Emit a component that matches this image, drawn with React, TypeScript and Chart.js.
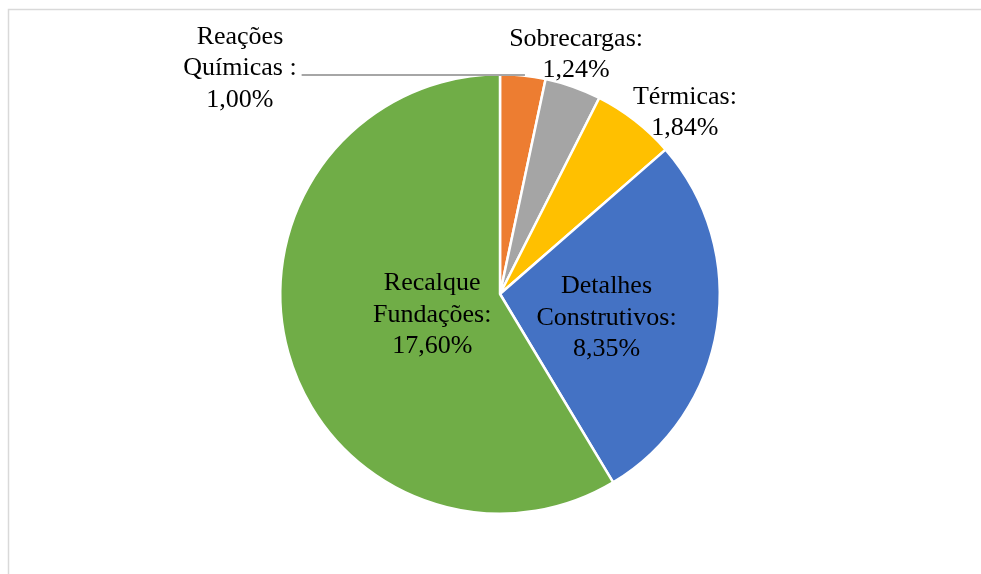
import React, { useEffect, useRef } from "react";
import { Chart, registerables } from "chart.js";

Chart.register(...registerables);

const categories = ["Reações Químicas", "Sobrecargas", "Térmicas", "Detalhes Construtivos", "Recalque Fundações"];
const categoryLines = [
  ["Reações", "Químicas :"],
  ["Sobrecargas:"],
  ["Térmicas:"],
  ["Detalhes", "Construtivos:"],
  ["Recalque", "Fundações:"],
];
const values = [1.0, 1.24, 1.84, 8.35, 17.6];
const colors = ["#ED7D31", "#A5A5A5", "#FFC000", "#4472C4", "#70AD47"];

// label placement: radial factor of the slice's mid-angle, plus pixel nudge
const labelPlacement = [
  { r: 1, dx: -283, dy: -7, leader: true },
  { r: 1, dx: 3, dy: -32, leader: false },
  { r: 1, dx: 50, dy: -8, leader: false },
  { r: 0.5, dx: -2, dy: 7, leader: false },
  { r: 0.32, dx: 0, dy: 2, leader: false },
];

const FONT = "26px 'Liberation Serif', 'Times New Roman', serif";
const LINE_H = 31.5;

const fmt = (v: number) => v.toFixed(2).replace(".", ",") + "%";

const framePlugin = {
  id: "frame",
  beforeDraw(chart: any) {
    const ctx = chart.ctx;
    ctx.save();
    ctx.strokeStyle = "#D9D9D9";
    ctx.lineWidth = 1.5;
    ctx.beginPath();
    ctx.moveTo(8.5, chart.height);
    ctx.lineTo(8.5, 9.5);
    ctx.lineTo(chart.width, 9.5);
    ctx.stroke();
    ctx.restore();
  },
};

const labelPlugin = {
  id: "sliceLabels",
  afterDatasetsDraw(chart: any) {
    const ctx = chart.ctx;
    const meta = chart.getDatasetMeta(0);
    ctx.save();
    ctx.font = FONT;
    ctx.fillStyle = "#000000";
    ctx.textAlign = "center";
    ctx.textBaseline = "middle";
    meta.data.forEach((arc: any, i: number) => {
      const p = labelPlacement[i];
      const mid = (arc.startAngle + arc.endAngle) / 2;
      const R = arc.outerRadius;
      const ax = arc.x + Math.cos(mid) * R * p.r;
      const ay = arc.y + Math.sin(mid) * R * p.r;
      const cx = ax + p.dx;
      const cy = ay + p.dy;
      const lines = [...categoryLines[i], fmt(values[i])];
      const n = lines.length;
      lines.forEach((t, k) => {
        ctx.fillText(t, cx, cy + (k - (n - 1) / 2) * LINE_H);
      });
      if (p.leader) {
        const w = ctx.measureText(lines[1]).width;
        const ly = ay - 0.5;
        ctx.save();
        ctx.strokeStyle = "#A6A6A6";
        ctx.lineWidth = 2;
        ctx.beginPath();
        ctx.moveTo(cx + w / 2 + 5, ly);
        ctx.lineTo(ax + 2, ly);
        ctx.stroke();
        ctx.restore();
      }
    });
    ctx.restore();
  },
};

export default function App() {
  const ref = useRef<HTMLCanvasElement | null>(null);
  useEffect(() => {
    if (!ref.current) return;
    const chart = new Chart(ref.current, {
      type: "pie",
      data: {
        labels: categories,
        datasets: [
          {
            data: values,
            backgroundColor: colors,
            borderColor: "#FFFFFF",
            borderWidth: 2.5,
            hoverOffset: 0,
            offset: 0,
          },
        ],
      },
      options: {
        responsive: false,
        animation: false,
        layout: { padding: { left: 279, right: 260, top: 73, bottom: 59 } },
        plugins: {
          legend: { display: false },
          tooltip: { enabled: false },
          title: { display: false },
        },
      },
      plugins: [framePlugin, labelPlugin],
    });
    return () => chart.destroy();
  }, []);
  return (
    <div style={{ position: "fixed", left: 0, top: 0, width: 981, height: 574, background: "#fff" }}>
      <canvas ref={ref} width={981} height={574} style={{ display: "block" }} />
    </div>
  );
}
